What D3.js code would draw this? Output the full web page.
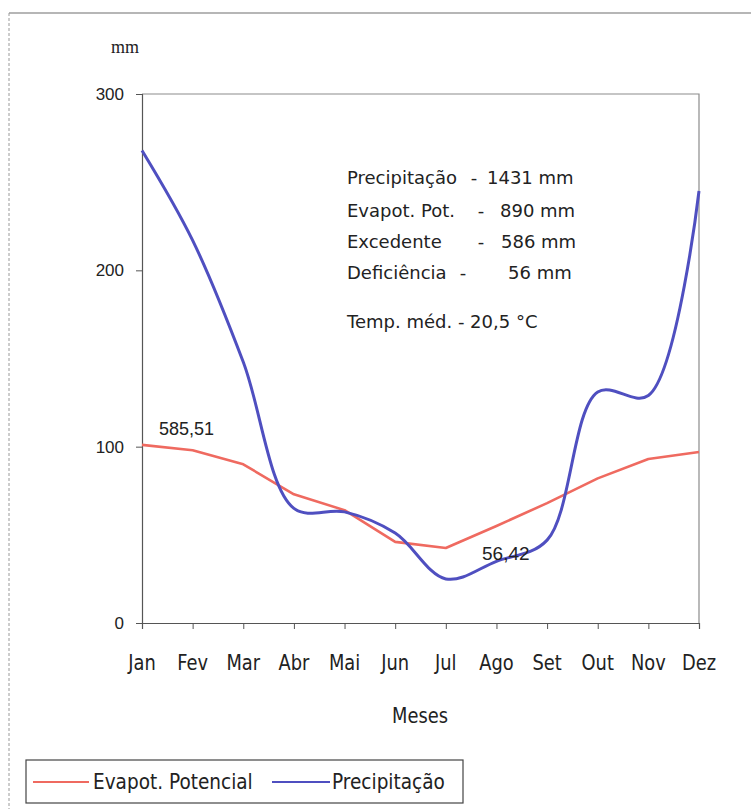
<!DOCTYPE html>
<html>
<head>
<meta charset="utf-8">
<script src="https://cdn.jsdelivr.net/npm/d3@7"></script>
<style>
  html, body { margin: 0; padding: 0; background: #fff; }
  svg { display: block; }
</style>
</head>
<body>
<svg id="chart" width="751" height="809"></svg>
<script>
// Monthly water balance: potential evapotranspiration vs. precipitation (mm)
const months = ["Jan", "Fev", "Mar", "Abr", "Mai", "Jun", "Jul", "Ago", "Set", "Out", "Nov", "Dez"];
const evapotPotencial = [101, 98, 90, 73, 64, 46, 42.5, 55, 68, 82, 93, 97];
const precipitacao = [268, 217, 148, 65, 63, 51, 25, 35, 47, 131, 129, 245];
const yTicks = [0, 100, 200, 300];

// Summary block
const statLabels = ["Precipitação", "Evapot. Pot.", "Excedente", "Deficiência"];
const statValues = ["1431 mm", "890 mm", "586 mm", "56 mm"];
const tempText = "Temp. méd. - 20,5 °C";

// Annotations written on the plot
const noteExcedente = "585,51";
const noteDeficiencia = "56,42";

const seriesNames = ["Evapot. Potencial", "Precipitação"];
const colors = { evapo: "#ef6a60", prec: "#4f4fc0" };

const svg = d3.select("#chart");
const comic = "'DejaVu Sans', 'Noto Sans', sans-serif";
const plain = "'Liberation Sans', Arial, sans-serif";

const plot = { left: 142, right: 699, top: 94, bottom: 623 };

const x = d3.scalePoint().domain(months).range([plot.left, plot.right]);
const y = d3.scaleLinear().domain([0, 300]).range([plot.bottom, plot.top]);

// Outer chart frame (top and left edges are visible)
svg.append("line").attr("x1", 9).attr("x2", 751).attr("y1", 13).attr("y2", 13)
  .attr("stroke", "#6e6e6e").attr("stroke-width", 1.2);
svg.append("line").attr("x1", 9).attr("x2", 9).attr("y1", 13).attr("y2", 809)
  .attr("stroke", "#9a9a9a").attr("stroke-width", 1).attr("stroke-dasharray", "3,2");

// Plot-area border (top and right)
svg.append("path")
  .attr("d", `M${plot.left},${plot.top}H${plot.right}V${plot.bottom}`)
  .attr("fill", "none").attr("stroke", "#8c8c8c").attr("stroke-width", 1.2);

// Y axis
const yAxis = svg.append("g")
  .attr("transform", `translate(${plot.left},0)`)
  .call(d3.axisLeft(y).tickValues(yTicks).tickSize(6).tickPadding(12).tickFormat(d3.format("d")));
yAxis.select(".domain").attr("stroke", "#555").attr("stroke-width", 1.2);
yAxis.selectAll(".tick line").attr("stroke", "#555");
yAxis.selectAll(".tick text").attr("font-family", plain).attr("font-size", 17).attr("fill", "#222");

// X axis
const xAxis = svg.append("g")
  .attr("transform", `translate(0,${plot.bottom})`)
  .call(d3.axisBottom(x).tickSize(6).tickFormat(""));
xAxis.select(".domain").attr("stroke", "#555").attr("stroke-width", 1.2);
xAxis.selectAll(".tick line").attr("stroke", "#555");

// Month labels (narrow hand-drawn style)
svg.append("g").selectAll("text").data(months).join("text")
  .attr("transform", d => `translate(${x(d)},670) scale(0.85,1)`)
  .attr("text-anchor", "middle")
  .attr("font-family", comic).attr("font-size", 21).attr("fill", "#222")
  .text(d => d);

// Axis titles
svg.append("text").attr("transform", "translate(420,723) scale(0.85,1)")
  .attr("text-anchor", "middle").attr("font-family", comic).attr("font-size", 21)
  .attr("fill", "#222").text("Meses");
svg.append("text").attr("x", 125).attr("y", 53).attr("text-anchor", "middle")
  .attr("font-family", "'Liberation Serif', serif").attr("font-size", 18)
  .attr("fill", "#222").text("mm");

// Series lines
const lineStraight = d3.line().x((d, i) => x(months[i])).y(d => y(d));
const lineSmooth = d3.line().x((d, i) => x(months[i])).y(d => y(d)).curve(d3.curveCatmullRom.alpha(0.5));

svg.append("path").datum(evapotPotencial).attr("d", lineStraight)
  .attr("fill", "none").attr("stroke", colors.evapo).attr("stroke-width", 2.6)
  .attr("stroke-linejoin", "round");
svg.append("path").datum(precipitacao).attr("d", lineSmooth)
  .attr("fill", "none").attr("stroke", colors.prec).attr("stroke-width", 3)
  .attr("stroke-linejoin", "round");

// Annotations on the curves
svg.append("text").attr("x", 159).attr("y", 435).attr("font-family", plain)
  .attr("font-size", 18).attr("fill", "#222").text(noteExcedente);
svg.append("text").attr("x", 482).attr("y", 560).attr("font-family", plain)
  .attr("font-size", 19).attr("fill", "#222").text(noteDeficiencia);

// Summary text block
const statY = [184, 217, 248, 279];
const dashX = [474, 481, 481, 463];
const valueX = [487, 500, 501, 508];
const stats = svg.append("g").attr("font-family", comic).attr("font-size", 18).attr("fill", "#222");
statLabels.forEach((lab, i) => {
  stats.append("text").attr("x", 347).attr("y", statY[i]).text(lab);
  stats.append("text").attr("x", dashX[i]).attr("y", statY[i]).attr("text-anchor", "middle").text("-");
  stats.append("text").attr("x", valueX[i]).attr("y", statY[i]).text(statValues[i]);
});
stats.append("text").attr("x", 347).attr("y", 328).text(tempText);

// Legend
const leg = svg.append("g");
leg.append("rect").attr("x", 26).attr("y", 760).attr("width", 437).attr("height", 43)
  .attr("fill", "#fff").attr("stroke", "#444").attr("stroke-width", 1.2);
const legItems = [
  { name: seriesNames[0], color: colors.evapo, x0: 33, x1: 89, tx: 93 },
  { name: seriesNames[1], color: colors.prec, x0: 272, x1: 330, tx: 332 }
];
legItems.forEach(it => {
  leg.append("line").attr("x1", it.x0).attr("x2", it.x1).attr("y1", 782).attr("y2", 782)
    .attr("stroke", it.color).attr("stroke-width", 2.2);
  leg.append("text").attr("transform", `translate(${it.tx},789) scale(0.88,1)`)
    .attr("font-family", comic).attr("font-size", 21).attr("fill", "#222").text(it.name);
});
</script>
</body>
</html>
